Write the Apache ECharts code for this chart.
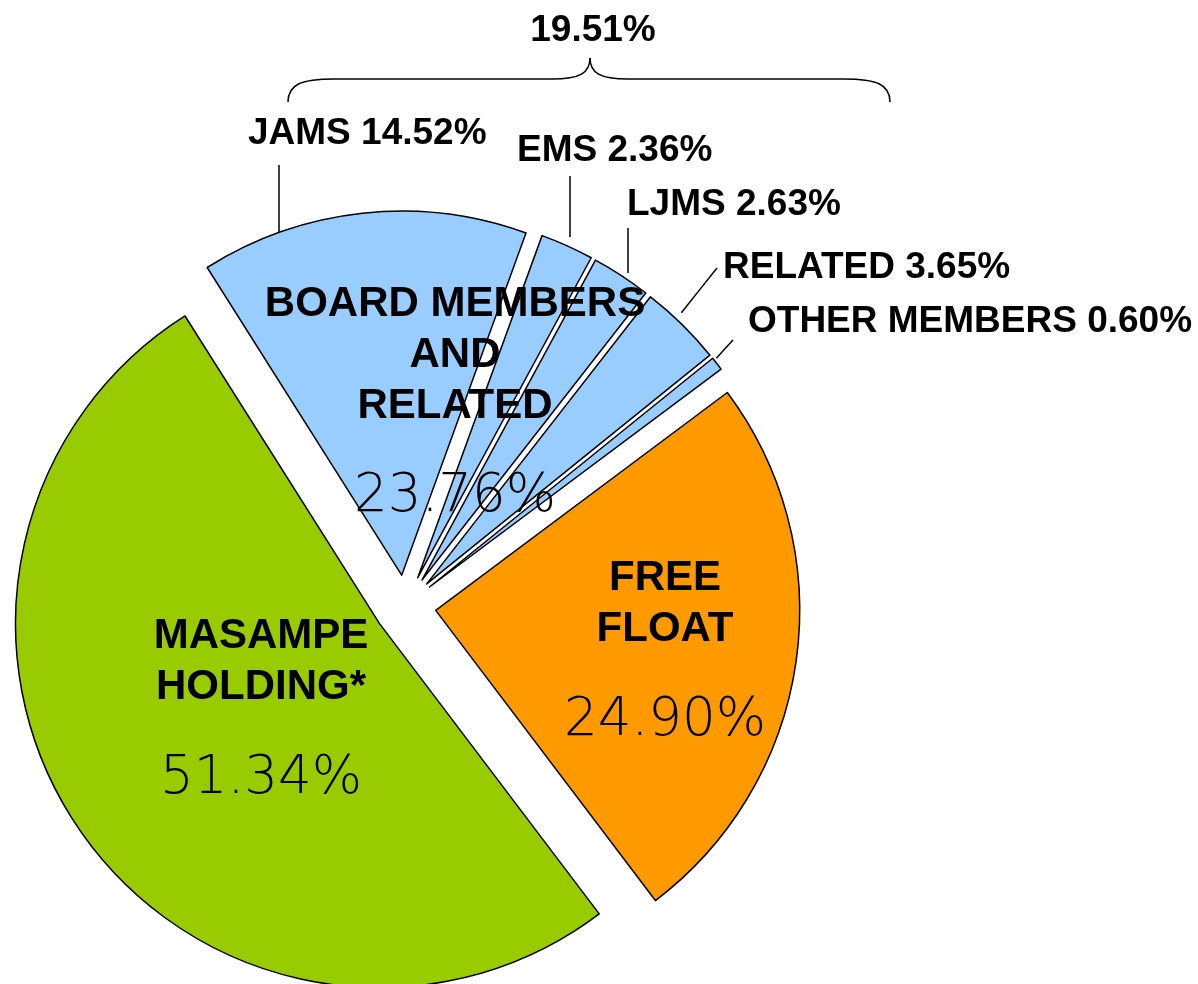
<!DOCTYPE html>
<html>
<head>
<meta charset="utf-8">
<title>Shareholder structure</title>
<script src="https://cdn.jsdelivr.net/npm/echarts@6/dist/echarts.min.js"></script>
<style>
  html, body { margin: 0; padding: 0; background: #fff; }
  #chart { width: 1198px; height: 984px; }
</style>
</head>
<body>
<div id="chart"></div>
<script>
// slices in drawing order (counter-clockwise, starting at the top-left edge of the green slice)
var names  = ['MASAMPE HOLDING*', 'FREE FLOAT', 'OTHER MEMBERS', 'RELATED', 'LJMS', 'EMS', 'JAMS'];
var values = [51.34, 24.90, 0.60, 3.65, 2.63, 2.36, 14.52];
// which group each slice belongs to
var groupOfItem = [0, 1, 2, 2, 2, 2, 2];
var groupNames  = ['MASAMPE\nHOLDING*', 'FREE\nFLOAT', 'BOARD MEMBERS\nAND\nRELATED'];
// slices covered by the brace at the top
var braceItems = ['JAMS', 'EMS', 'LJMS'];

var groupColors = ['#99CC00', '#FF9900', '#99CCFF'];
var BOLD = '"Liberation Sans", Arial, sans-serif';
var LIGHT = '"DejaVu Sans", Inter, sans-serif';

var CX = 405, CY = 606, R = 364, START = 122.3, EXPLODE = 31;

var chart = echarts.init(document.getElementById('chart'));

// group totals (board members = sum of its slices)
var groupValues = groupNames.map(function () { return 0; });
values.forEach(function (v, i) { groupValues[groupOfItem[i]] += v; });

var braceTotal = 0;
names.forEach(function (n, i) { if (braceItems.indexOf(n) >= 0) braceTotal += values[i]; });

var total = values.reduce(function (a, b) { return a + b; }, 0);

// small outside labels: text left edge / middle, where the leader line ends near the text,
// and where it leaves the slice (straight down, or at a given angle), gap = distance kept from the arc
var outerLabelPos = {
  'JAMS':          { left: 248, cy: 133.5, lineTo: [279, 165], vertical: true, gap: 0 },
  'EMS':           { left: 517, cy: 151,   lineTo: [570, 176], vertical: true, gap: 10 },
  'LJMS':          { left: 627, cy: 205,   lineTo: [628, 228], vertical: true, gap: 7 },
  'RELATED':       { left: 723, cy: 268,   lineTo: [717, 268], angle: 46.7, gap: 8 },
  'OTHER MEMBERS': { left: 748, cy: 322,   lineTo: [733, 340], angle: 38.5, gap: 3 }
};
// centres of the big labels inside the slices
var innerLabelPos = [[261, 728], [665, 670], [455, 421]];

var outerLabel = {
  position: 'outside',
  formatter: function (p) { return p.name + ' ' + p.value.toFixed(2) + '%'; },
  fontFamily: BOLD,
  fontWeight: 'bold',
  fontSize: 37,
  lineHeight: 40,
  color: '#000'
};

// leader line from the pulled-out slice (centre c) to the label
function leaderLine(c, pos) {
  var a = pos.lineTo, p0;
  if (pos.vertical) {
    var ddx = a[0] - c[0];
    p0 = [a[0], c[1] - Math.sqrt(R * R - ddx * ddx)];
  } else {
    var t = pos.angle * Math.PI / 180;
    p0 = [c[0] + R * Math.cos(t), c[1] - R * Math.sin(t)];
  }
  var vx = a[0] - p0[0], vy = a[1] - p0[1], len = Math.sqrt(vx * vx + vy * vy);
  p0 = [p0[0] + vx / len * pos.gap, p0[1] + vy / len * pos.gap];
  return [p0, [(p0[0] + a[0]) / 2, (p0[1] + a[1]) / 2], a];
}

// one pie per slice, each pulled out along its own middle angle
var cum = 0;
var sliceSeries = names.map(function (n, k) {
  var mid = (START + (cum + values[k] / 2) / total * 360) * Math.PI / 180;
  cum += values[k];
  var pos = outerLabelPos[n];
  var c = [CX + EXPLODE * Math.cos(mid), CY - EXPLODE * Math.sin(mid)];
  return {
    type: 'pie',
    center: c,
    radius: R,
    startAngle: START,
    clockwise: false,
    silent: true,
    avoidLabelOverlap: false,
    emphasis: { disabled: true },
    label: outerLabel,
    labelLine: { length: 10, length2: 10, lineStyle: { color: '#000', width: 1.5 } },
    labelLayout: function (p) {
      if (p.dataIndex !== k || !pos) return {};
      return {
        x: pos.left, y: pos.cy, align: 'left', verticalAlign: 'middle',
        labelLinePoints: leaderLine(c, pos)
      };
    },
    data: names.map(function (m, i) {
      var on = i === k;
      return {
        name: m,
        value: values[i],
        itemStyle: on
          ? { color: groupColors[groupOfItem[i]], borderColor: '#000', borderWidth: 1.5 }
          : { color: 'rgba(0,0,0,0)', borderWidth: 0 },
        label: { show: !!(on && pos) },
        labelLine: { show: !!(on && pos) }
      };
    })
  };
});

var groupSeries = {
  // invisible grouped pie, only carries the big inside labels
  type: 'pie',
  center: [CX, CY],
  radius: R,
  startAngle: START,
  clockwise: false,
  silent: true,
  itemStyle: { color: 'rgba(0,0,0,0)', borderWidth: 0 },
  emphasis: { disabled: true },
  label: {
    position: 'inside',
    overflow: 'none',
    color: '#000',
    formatter: function (p) {
      var lines = p.name.split('\n').map(function (s) { return '{n|' + s + '}'; });
      return lines.join('\n') + '\n{v|' + p.value.toFixed(2) + '%}';
    },
    rich: {
      n: { fontFamily: BOLD, fontWeight: 'bold', fontSize: 42, lineHeight: 51, color: '#000', align: 'center' },
      v: { fontFamily: LIGHT, fontWeight: 200, fontSize: 53, lineHeight: 132, color: '#000', align: 'center' }
    }
  },
  labelLine: { show: false },
  labelLayout: function (p) {
    var q = innerLabelPos[p.dataIndex];
    return { x: q[0], y: q[1], align: 'center', verticalAlign: 'middle' };
  },
  data: groupNames.map(function (n, i) { return { name: n, value: groupValues[i] }; })
};

var option = {
  animation: false,
  backgroundColor: '#ffffff',
  graphic: [
    // brace over JAMS + EMS + LJMS
    { type: 'bezierCurve', shape: { x1: 288, y1: 102, cpx1: 288, cpy1: 84, cpx2: 302, cpy2: 79, x2: 334, y2: 79 },
      style: { fill: 'none', stroke: '#000', lineWidth: 1.5 } },
    { type: 'line', shape: { x1: 334, y1: 79, x2: 552, y2: 79 }, style: { stroke: '#000', lineWidth: 1.5 } },
    { type: 'bezierCurve', shape: { x1: 552, y1: 79, cpx1: 580, cpy1: 79, cpx2: 590, cpy2: 73, x2: 590, y2: 58 },
      style: { fill: 'none', stroke: '#000', lineWidth: 1.5 } },
    { type: 'bezierCurve', shape: { x1: 590, y1: 58, cpx1: 590, cpy1: 73, cpx2: 600, cpy2: 79, x2: 628, y2: 79 },
      style: { fill: 'none', stroke: '#000', lineWidth: 1.5 } },
    { type: 'line', shape: { x1: 628, y1: 79, x2: 844, y2: 79 }, style: { stroke: '#000', lineWidth: 1.5 } },
    { type: 'bezierCurve', shape: { x1: 844, y1: 79, cpx1: 876, cpy1: 79, cpx2: 890, cpy2: 84, x2: 890, y2: 102 },
      style: { fill: 'none', stroke: '#000', lineWidth: 1.5 } },
    { type: 'text', x: 593, y: 31,
      style: { text: braceTotal.toFixed(2) + '%', font: 'bold 37px ' + BOLD, fill: '#000',
               textAlign: 'center', textVerticalAlign: 'middle' } }
  ],
  series: sliceSeries.concat([groupSeries])
};

chart.setOption(option);
</script>
</body>
</html>
